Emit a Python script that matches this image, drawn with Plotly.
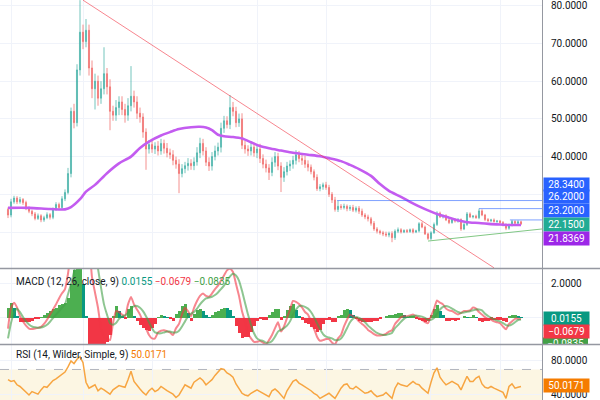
import plotly.graph_objects as go

# ---------------- data ----------------
closes = [24.5, 28.0, 29.0, 28.0, 28.6, 27.8, 26.2, 25.5, 24.8, 23.6,
          24.3, 23.2, 23.8, 24.6, 23.9, 26.0, 27.3, 26.5, 28.8, 30.5,
          35.5, 52.0, 49.0, 63.0, 73.0, 70.5, 73.5, 63.5, 58.0, 60.0,
          55.5, 58.0, 62.0, 58.5, 52.0, 51.0, 53.0, 54.5, 52.5, 51.0,
          53.5, 56.0, 54.5, 51.5, 50.5, 46.5, 42.0, 43.2, 42.0, 42.8,
          41.5, 43.5, 42.2, 41.0, 40.5, 39.0, 38.0, 35.5, 36.8, 37.6,
          38.2, 37.6, 38.6, 41.0, 43.5, 41.5, 38.5, 37.5, 40.0, 41.5,
          42.5, 47.5, 49.5, 48.5, 53.0, 52.0, 49.0, 50.0, 43.0, 42.0,
          41.5, 42.5, 41.0, 42.0, 39.5, 38.0, 37.0, 35.8, 38.5, 40.0,
          37.5, 34.5, 36.0, 37.5, 38.0, 39.0, 40.5, 39.5, 39.0, 38.0,
          37.2, 36.0, 34.5, 31.5, 32.0, 32.5, 31.8, 30.0, 28.5, 26.0,
          26.8, 26.5, 26.8, 26.2, 26.5, 25.8, 26.3, 25.5, 24.5, 24.0,
          23.5, 22.3, 20.8, 20.2, 19.8, 19.5, 19.2, 19.6, 18.5, 20.2,
          20.6, 20.0, 20.4, 20.1, 20.6, 20.0, 20.3, 22.2, 21.3, 19.5,
          18.3, 19.8, 22.0, 25.0, 24.0, 24.3, 23.2, 22.5, 23.3, 22.9,
          23.3, 20.8, 22.0, 24.8, 24.0, 24.2, 23.8, 25.6, 24.5, 23.3,
          23.0, 23.2, 22.8, 22.9, 22.5, 22.0, 21.0, 21.8, 22.8, 22.3,
          22.7, 22.15]
first_open = 26.0

wick_up = ([0.5, 0.8, 0.6, 0.5, 0.7, 0.4, 0.5, 0.6, 0.4, 0.5, 0.6, 0.4, 0.5, 0.6, 0.4, 0.5, 0.6, 0.5, 0.7, 0.8]
           + [1.5, 1.0, 2.0, 1.5, 8.5, 2.0, 3.0, 1.5, 2.0, 2.0, 1.5, 2.0, 7.0, 1.5, 2.0, 1.5, 2.0, 1.5, 1.5, 1.5,
              2.0, 8.0, 1.5, 1.5, 1.5, 1.0]
           + [1.0, 1.2, 1.5, 1.0, 1.3, 1.2, 1.0, 1.4, 1.1, 1.2, 1.0, 1.3, 1.2, 1.0, 1.4, 1.1, 1.2, 1.5, 1.5, 1.2,
              1.0, 1.3, 1.2, 1.4, 1.2, 1.5, 1.3, 1.2, 3.3, 1.5, 1.2, 1.4, 1.5, 1.2, 1.0, 1.3, 1.2, 1.0, 1.4, 1.1,
              1.2, 1.0, 1.3, 1.2, 1.0, 1.0, 1.2, 1.1, 1.0, 1.2, 1.2, 1.0, 1.1, 1.2, 1.0]
           + [0.7, 0.6, 0.8, 0.7, 0.6, 0.8, 0.7, 0.6, 0.8, 1.5, 0.6, 0.7, 0.5, 0.6, 0.7, 0.5, 0.6, 0.7, 0.5, 0.6,
              0.5, 0.6, 0.5, 0.4, 0.5, 0.6, 0.5, 0.6, 0.5, 0.6]
           + [0.4, 0.3, 0.4, 0.3, 0.4, 0.3, 0.4, 0.5, 0.4, 0.3, 0.4, 0.5, 0.5, 0.4, 0.3, 0.4, 0.3, 0.4, 0.3, 0.4,
              0.3, 0.4, 0.5, 0.4, 0.3, 0.4, 0.6, 0.4, 0.3, 0.4, 0.3, 0.4, 0.3, 0.3, 0.4, 0.3, 0.4, 0.4, 0.3, 0.4, 0.3])
wick_dn = ([0.8, 0.6, 0.5, 0.6, 0.5, 0.6, 0.4, 0.5, 0.6, 0.5, 0.4, 0.6, 0.5, 0.4, 0.6, 0.5, 0.4, 0.6, 0.5, 0.6]
           + [0.5, 1.0, 1.5, 1.0, 1.5, 2.0, 1.5, 2.0, 2.5, 5.5, 2.0, 1.5, 1.5, 2.0, 5.0, 1.5, 1.5, 2.0, 1.5, 2.0,
              1.5, 1.5, 1.5, 1.5, 1.5, 1.5]
           + [5.5, 1.2, 1.0, 1.3, 1.2, 1.0, 1.4, 1.2, 1.1, 1.3, 1.2, 5.2, 1.0, 1.2, 1.3, 1.1, 1.2, 1.0, 1.4, 1.2,
              1.0, 1.3, 1.2, 1.0, 1.2, 1.4, 1.2, 1.0, 1.2, 1.3, 1.2, 1.1, 1.0, 1.2, 1.3, 1.2, 1.0, 1.4, 1.2, 1.1,
              1.2, 2.0, 1.0, 1.2, 1.1, 3.9, 1.2, 1.0, 1.3, 1.2, 1.1, 1.0, 1.2, 1.0, 1.1]
           + [0.7, 0.8, 0.6, 0.7, 0.8, 0.6, 0.7, 0.8, 0.6, 0.7, 0.6, 0.5, 0.7, 0.6, 0.5, 0.6, 0.7, 0.5, 0.6, 0.7,
              0.6, 0.5, 0.6, 0.5, 0.6, 0.5, 0.6, 1.2, 0.6, 0.5]
           + [0.4, 0.3, 0.4, 0.3, 0.4, 0.3, 0.4, 0.3, 0.3, 0.4, 0.4, 0.3, 0.4, 0.3, 0.4, 0.3, 0.4, 0.3, 0.4, 0.4,
              0.5, 0.3, 0.4, 0.3, 0.4, 0.3, 0.4, 0.3, 0.4, 0.3, 0.4, 0.3, 0.4, 0.3, 0.5, 0.5, 0.4, 0.3, 0.4, 0.3, 0.3])

ma_idx = [0, 7, 14, 19, 21, 24, 26, 29, 33, 37, 41, 44, 47, 51, 54, 57, 61, 64, 66, 68, 70, 72, 75, 78, 81,
          84, 87, 91, 95, 100, 104, 107, 111, 114, 117, 121, 124, 127, 131, 134, 137, 141, 144, 147, 151,
          154, 157, 161, 164, 167, 171]
ma_val = [26.4, 26.4, 26.1, 26.0, 26.6, 28.7, 30.7, 32.5, 35.6, 38.2, 40.0, 42.3, 44.0, 45.6, 46.5, 47.3,
          47.8, 47.9, 47.7, 47.0, 45.8, 45.4, 45.2, 44.8, 43.8, 42.8, 42.2, 41.6, 41.0, 40.5, 40.1, 39.6,
          38.8, 37.8, 36.7, 34.9, 32.7, 30.9, 29.3, 28.0, 26.8, 25.4, 24.5, 23.8, 22.9, 22.5, 22.4, 22.1,
          22.0, 21.86, 21.8369]

macd_line = [-0.62, 0.6, 0.9, 0.62, 0.1, -0.21, -0.45, -0.62, -0.65, -0.62, -0.58, -0.52, -0.35, -0.1, 0.2, 0.5, 0.8, 1.15, 1.45, 1.7,
             2.6, 4.0, 5.5, 7.0, 8.0, 7.6, 6.4, 4.6, 2.4, 1.5, 0.6, -0.6, -1.1, -1.2, -1.3, -0.3, 0.4, 0.35, 0.2, 0.1,
             0.8, 1.24, 0.8, 0.5, 0.2, -0.2, -0.6, -1.0, -1.2, -1.2, -0.85, -0.75, -0.72, -0.78, -0.85, -1.0, -0.6, -0.35, 0.2, 0.6,
             0.4, 0.1, 0.6, 1.0, 1.3, 1.44, 1.3, 1.25, 1.44, 1.7, 1.9, 2.2, 2.5, 2.8, 2.9, 2.7, 2.0, 1.3, 0.4, -0.2,
             -0.9, -1.2, -1.4, -1.4, -1.35, -1.45, -1.55, -1.3, -1.0, -0.6, -0.25, -0.8, -0.5, 0.0, 0.5, 1.0, 0.95, 0.82, 0.62, 0.35,
             0.2, -0.2, -0.62, -1.1, -1.34, -1.3, -1.24, -1.24, -1.45, -1.55, -1.2, -1.0, -0.5, -0.1, 0.21, 0.1, 0.0, -0.2, -0.35, -0.5,
             -0.7, -0.82, -0.95, -1.03, -1.03, -1.0, -0.93, -0.8, -0.72, -0.35, -0.15, 0.05, 0.1, 0.1, 0.15, 0.21, 0.1, 0.0, -0.1, -0.25,
             -0.3, 0.1, 0.52, 1.03, 0.9, 0.8, 0.55, 0.45, 0.41, 0.3, 0.21, 0.3, 0.41, 0.41, 0.45, 0.62, 0.55, 0.35, 0.2, 0.05,
             -0.05, -0.1, -0.2, -0.25, -0.31, -0.5, -0.66, -0.35, -0.2, -0.05, -0.04, -0.06794]
signal_line = [-1.2, -0.3, 0.3, 0.55, 0.35, 0.05, -0.2, -0.38, -0.5, -0.55, -0.57, -0.56, -0.5, -0.4, -0.22, 0.0, 0.2, 0.4, 0.6, 0.8,
               1.4, 2.0, 2.7, 3.6, 4.6, 5.6, 6.3, 6.3, 5.2, 4.0, 2.9, 1.8, 0.8, 0.2, -0.3, -0.4, -0.3, -0.05, 0.1, 0.15,
               0.3, 0.55, 0.7, 0.7, 0.6, 0.4, 0.1, -0.25, -0.6, -0.85, -0.9, -0.9, -0.85, -0.8, -0.8, -0.85, -0.85, -0.75, -0.5, -0.2,
               0.1, 0.25, 0.35, 0.55, 0.8, 1.0, 1.15, 1.2, 1.25, 1.35, 1.5, 1.7, 1.9, 2.2, 2.45, 2.6, 2.5, 2.2, 1.6, 0.9,
               0.2, -0.4, -0.9, -1.2, -1.3, -1.35, -1.45, -1.45, -1.35, -1.1, -0.8, -0.7, -0.6, -0.45, -0.2, 0.2, 0.5, 0.7, 0.72, 0.65,
               0.55, 0.35, 0.05, -0.3, -0.65, -0.95, -1.1, -1.15, -1.2, -1.3, -1.3, -1.2, -0.95, -0.6, -0.25, -0.05, 0.05, 0.0, -0.1, -0.25,
               -0.45, -0.6, -0.75, -0.88, -0.95, -1.0, -1.0, -0.95, -0.88, -0.6, -0.42, -0.22, -0.05, 0.05, 0.08, 0.12, 0.15, 0.12, 0.08, 0.0,
               -0.1, -0.1, 0.0, 0.25, 0.5, 0.65, 0.7, 0.65, 0.55, 0.45, 0.35, 0.3, 0.32, 0.36, 0.4, 0.45, 0.5, 0.5, 0.45, 0.25,
               0.12, 0.0, -0.08, -0.15, -0.2, -0.3, -0.42, -0.45, -0.38, -0.25, -0.12, -0.08346]

rsi_vals = [58, 56, 57, 52, 50, 47, 44, 40, 44, 42, 41, 46, 50, 49, 53, 57, 59, 62, 64, 67,
            73, 80, 77, 82, 85, 78, 55, 48, 50, 52, 45, 48, 46, 43, 41, 46, 48, 51, 50, 49,
            58, 68, 56, 51, 47, 43, 40, 45, 48, 44, 46, 50, 47, 45, 43, 41, 37, 40, 46, 52,
            50, 48, 55, 58, 60, 57, 52, 55, 58, 63, 67, 71, 70, 66, 64, 61, 53, 47, 42, 40,
            39, 42, 44, 46, 44, 42, 39, 38, 45, 47, 44, 40, 36, 45, 51, 56, 58, 54, 52, 50,
            47, 45, 42, 40, 36, 38, 40, 42, 39, 36, 42, 48, 52, 53, 48, 47, 50, 47, 44, 42,
            43, 45, 41, 38, 39, 40, 43, 40, 36, 48, 54, 52, 51, 50, 53, 56, 53, 52, 48, 45,
            42, 55, 66, 72, 61, 56, 52, 54, 56, 54, 52, 46, 55, 62, 56, 56, 60, 62, 53, 49,
            48, 50, 48, 46, 45, 43, 36, 50, 53, 48, 49, 50.0171]

levels = [28.34, 26.2, 23.2]
level_start = [109.7, 157.0, 167.3]
red_tl_x, red_tl_y = [25.0, 162.0], [81.5, 10.5]
green_tl_x, green_tl_y = [140.0, 178.0], [17.6, 20.8]
ma_last = 21.8369
price_ticks = [20, 30, 40, 50, 60, 70, 80]
grid_x = [1.33, 25.33, 48.33, 83.0, 106.33, 140.67, 164.0]

N = len(closes)
assert len(wick_up) == N and len(wick_dn) == N and len(macd_line) == N
assert len(signal_line) == N and len(rsi_vals) == N

idx = list(range(N))
opens = [first_open] + closes[:-1]
highs = [max(o, c) + u for o, c, u in zip(opens, closes, wick_up)]
lows = [min(o, c) - d for o, c, d in zip(opens, closes, wick_dn)]
hist = [m - s for m, s in zip(macd_line, signal_line)]

hist_colors = []
for k, h in enumerate(hist):
    prev = hist[k - 1] if k else h
    if h >= 0:
        hist_colors.append('#4caf50' if h >= prev else '#089981')
    else:
        hist_colors.append('#f23645')

# ---------------- layout geometry ----------------
W, H = 600, 400
AX_PX = 542
X_RANGE = [-8 / 3, (AX_PX - 8) / 3]
FONT = 'Roboto, sans-serif'
TXT = '#131722'
GRID = '#f0f3fa'
SEP = '#9598a1'


def py(px):
    return 1 - px / H


def fmt(v):
    return f"{v:.4f}".replace('-', '\u2212')


fig = go.Figure()

fig.add_trace(go.Candlestick(
    x=idx, open=opens, high=highs, low=lows, close=closes,
    increasing=dict(line=dict(color='#26a69a', width=0.8), fillcolor='#26a69a'),
    decreasing=dict(line=dict(color='#ef5350', width=0.8), fillcolor='#ef5350'),
    whiskerwidth=0, opacity=0.8, xaxis='x', yaxis='y', showlegend=False, hoverinfo='skip'))

fig.add_trace(go.Scatter(x=ma_idx, y=ma_val, mode='lines',
                         line=dict(color='#c35cf0', width=2.6, shape='spline', smoothing=0.8),
                         xaxis='x', yaxis='y', showlegend=False, hoverinfo='skip'))

for lv, st in zip(levels, level_start):
    fig.add_trace(go.Scatter(x=[st, X_RANGE[1]], y=[lv, lv], mode='lines',
                             line=dict(color='rgba(41,98,255,0.6)', width=1),
                             xaxis='x', yaxis='y', showlegend=False, hoverinfo='skip'))

fig.add_trace(go.Scatter(x=red_tl_x, y=red_tl_y, mode='lines',
                         line=dict(color='rgba(242,54,69,0.6)', width=1),
                         xaxis='x', yaxis='y', showlegend=False, hoverinfo='skip'))
fig.add_trace(go.Scatter(x=green_tl_x, y=green_tl_y, mode='lines',
                         line=dict(color='rgba(76,175,80,0.7)', width=1),
                         xaxis='x', yaxis='y', showlegend=False, hoverinfo='skip'))

# MACD pane
fig.add_trace(go.Bar(x=idx, y=hist, marker=dict(color=hist_colors, line=dict(width=0)), width=1.0,
                     xaxis='x2', yaxis='y2', showlegend=False, hoverinfo='skip'))
fig.add_trace(go.Scatter(x=idx, y=macd_line, mode='lines',
                         line=dict(color='rgba(242,54,69,0.6)', width=2, shape='spline', smoothing=0.5),
                         xaxis='x2', yaxis='y2', showlegend=False, hoverinfo='skip'))
fig.add_trace(go.Scatter(x=idx, y=signal_line, mode='lines',
                         line=dict(color='rgba(67,160,71,0.6)', width=2, shape='spline', smoothing=0.5),
                         xaxis='x2', yaxis='y2', showlegend=False, hoverinfo='skip'))

# RSI pane
fig.add_trace(go.Scatter(x=idx, y=rsi_vals, mode='lines',
                         line=dict(color='#f7a541', width=1.5),
                         xaxis='x3', yaxis='y3', showlegend=False, hoverinfo='skip'))

# clipped MACD signal tag (overlay axes in pixel units)
fig.add_trace(go.Scatter(x=[543, 588, 588, 543, 543], y=[337.5, 337.5, 350.5, 350.5, 337.5],
                         mode='lines', fill='toself', fillcolor='#43a047', line=dict(width=0),
                         xaxis='x4', yaxis='y4', showlegend=False, hoverinfo='skip'))
fig.add_trace(go.Scatter(x=[565.5], y=[344], mode='text', text=[fmt(signal_line[-1])],
                         textfont=dict(color='white', size=10, family=FONT), textposition='middle center',
                         cliponaxis=True, xaxis='x4', yaxis='y4', showlegend=False, hoverinfo='skip'))

xcommon = dict(range=X_RANGE, domain=[0, AX_PX / W], showticklabels=False, ticks='',
               tickvals=grid_x, showgrid=True, gridcolor=GRID, zeroline=False, showline=False,
               rangeslider=dict(visible=False))
ycommon = dict(side='right', showline=True, linecolor=SEP, linewidth=1, ticks='',
               gridcolor=GRID, zeroline=False, ticklabelstandoff=6, ticklabeloverflow='allow',
               tickfont=dict(size=10, color=TXT, family=FONT))

fig.update_layout(
    width=W, height=H, margin=dict(l=0, r=0, t=0, b=0),
    paper_bgcolor='white', plot_bgcolor='white', showlegend=False,
    xaxis=dict(**xcommon, anchor='y'),
    xaxis2=dict(**xcommon, anchor='y2', matches='x'),
    xaxis3=dict(**xcommon, anchor='y3', matches='x'),
    xaxis4=dict(domain=[AX_PX / W, 1], range=[AX_PX, W], visible=False, anchor='y4'),
    yaxis=dict(**ycommon, domain=[py(268), 1], range=[10.45, 81.54], anchor='x',
               tickvals=price_ticks, ticktext=[f"{v:.4f}" if v >= 40 else '' for v in price_ticks]),
    yaxis2=dict(**ycommon, domain=[py(344), py(269)], range=[-1.53, 2.88], anchor='x2',
                tickvals=[0, 2], ticktext=['', '2.0000']),
    yaxis3=dict(**ycommon, domain=[0, py(345)], range=[34.1, 98.8], anchor='x3',
                tickvals=[40, 80], ticktext=['40.0000', '80.0000']),
    yaxis4=dict(domain=[py(344), py(269)], range=[344, 269], visible=False, anchor='x4'),
    bargap=0, boxgap=0.5,
)

# RSI band and bounds
fig.add_shape(type='rect', xref='x3 domain', yref='y3', x0=0, x1=1, y0=30, y1=70,
              fillcolor='#fcf6e3', line=dict(width=0), layer='below')
for lv in (70, 30):
    fig.add_shape(type='line', xref='x3 domain', yref='y3', x0=0, x1=1, y0=lv, y1=lv,
                  line=dict(color='#b2b5be', width=1, dash='dash'), layer='below')

# pane separators
for ypx in (268.5, 344.5):
    fig.add_shape(type='line', xref='paper', yref='paper', x0=0, x1=1, y0=py(ypx), y1=py(ypx),
                  line=dict(color=SEP, width=1.5))

# indicator legends
fig.add_annotation(xref='paper', yref='paper', x=14 / W, y=py(282), xanchor='left', yanchor='middle',
                   showarrow=False, font=dict(size=10, color=TXT, family=FONT),
                   text=("MACD (12, 26, close, 9) "
                         f"<span style='color:#089981'>{fmt(hist[-1])}</span> "
                         f"<span style='color:#f23645'>{fmt(macd_line[-1])}</span> "
                         f"<span style='color:#43a047'>{fmt(signal_line[-1])}</span>"))
fig.add_annotation(xref='paper', yref='paper', x=14 / W, y=py(355), xanchor='left', yanchor='middle',
                   showarrow=False, font=dict(size=10, color=TXT, family=FONT),
                   text=f"RSI (14, Wilder, Simple, 9) <span style='color:#f57c00'>{fmt(rsi_vals[-1])}</span>")

# right-hand value tags
tags = [(levels[0], '#2962ff', 184), (levels[1], '#2962ff', 197), (levels[2], '#2962ff', 210),
        (closes[-1], '#22ab94', 224), (ma_last, '#9c27e8', 238),
        (hist[-1], '#089981', 318), (macd_line[-1], '#f23645', 331),
        (rsi_vals[-1], '#f57c00', 385)]
for val, col, ypx in tags:
    fig.add_annotation(xref='paper', yref='paper', x=(AX_PX + 1) / W, y=py(ypx), xanchor='left',
                       yanchor='middle', showarrow=False, bgcolor=col, borderpad=1, width=43, height=11,
                       font=dict(size=10, color='white', family=FONT), align='center',
                       text=fmt(val))

fig.write_html("out.html", config={'displayModeBar': False},
               post_script="document.body.style.margin='0';")
